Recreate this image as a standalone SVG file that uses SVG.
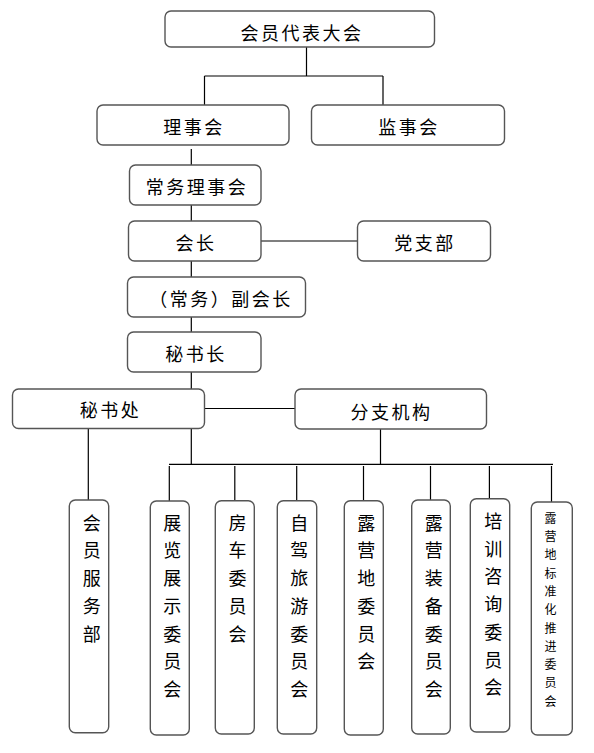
<svg xmlns="http://www.w3.org/2000/svg" width="594" height="753" viewBox="0 0 594 753">
<style>
.box{fill:#fff;stroke:#555;stroke-width:1.4}
.ln{stroke:#000;stroke-width:1.2;fill:none}
.t{font-family:"Noto Sans CJK SC","Noto Sans",sans-serif;font-size:18px;fill:#000;text-anchor:middle;dominant-baseline:central}
.h{letter-spacing:2.5px}
.s{font-size:12px}
</style>
<rect width="594" height="753" fill="#fff"/>
<g id="connectors">
<path class="ln" d="M306.5 47V76M204.5 76H383M204.5 76V105M383 76V105"/>
<path class="ln" d="M191.3 149V165M191.3 205V221M191.3 261V277M191.3 317V332M191.3 372V389M191.3 428V465"/>
<path class="ln" d="M261 241H357.5"/>
<path class="ln" d="M205 408.5H295"/>
<path class="ln" d="M380.5 428.5V464.3M169 464.3H553"/>
<path class="ln" d="M88.3 428.5V500"/>
<path class="ln" d="M169.3 466V501M234.8 466V500.7M296.7 466V500.7M363.5 466V500.7M430.5 466V500M489.4 466V498.7M551.5 466V502"/>
</g>
<g id="n1"><rect class="box" x="165" y="11" width="269.5" height="36" rx="6"/><text class="t h" x="302" y="32">会员代表大会</text></g>
<g id="n2"><rect class="box" x="97" y="105" width="192" height="40" rx="6"/><text class="t h" x="194" y="125.5">理事会</text></g>
<g id="n3"><rect class="box" x="311.5" y="105" width="193" height="40" rx="6"/><text class="t h" x="409" y="125.5">监事会</text></g>
<g id="n4"><rect class="box" x="129.5" y="165" width="131.5" height="40" rx="6"/><text class="t h" x="197" y="185.5">常务理事会</text></g>
<g id="n5"><rect class="box" x="128.5" y="221" width="132.5" height="40" rx="6"/><text class="t h" x="196" y="242">会长</text></g>
<g id="n6"><rect class="box" x="357.5" y="221" width="133" height="40" rx="6"/><text class="t h" x="425" y="242">党支部</text></g>
<g id="n7"><rect class="box" x="127.5" y="277" width="178" height="40" rx="6"/><text class="t h" x="221" y="297.5">（常务）副会长</text></g>
<g id="n8"><rect class="box" x="127.5" y="332" width="133.5" height="40" rx="6"/><text class="t h" x="196" y="352.5">秘书长</text></g>
<g id="n9"><rect class="box" x="12.5" y="389" width="192" height="39.5" rx="6"/><text class="t h" x="110.5" y="409.3">秘书处</text></g>
<g id="n10"><rect class="box" x="295" y="389" width="191.5" height="40" rx="6"/><text class="t h" x="391.5" y="410.8">分支机构</text></g>
<g id="n11"><rect class="box" x="69.3" y="500" width="39.4" height="232.7" rx="6"/><text class="t" x="91.8" y="521.7"><tspan x="91.8" dy="0">会</tspan><tspan x="91.8" dy="27.7">员</tspan><tspan x="91.8" dy="27.7">服</tspan><tspan x="91.8" dy="27.7">务</tspan><tspan x="91.8" dy="27.7">部</tspan></text></g>
<g id="n12"><rect class="box" x="150.3" y="501" width="39" height="234" rx="6"/><text class="t" x="172.3" y="521.7"><tspan x="172.3" dy="0">展</tspan><tspan x="172.3" dy="27.7">览</tspan><tspan x="172.3" dy="27.7">展</tspan><tspan x="172.3" dy="27.7">示</tspan><tspan x="172.3" dy="27.7">委</tspan><tspan x="172.3" dy="27.7">员</tspan><tspan x="172.3" dy="27.7">会</tspan></text></g>
<g id="n13"><rect class="box" x="215.3" y="500.7" width="39" height="233.3" rx="6"/><text class="t" x="237.4" y="521.7"><tspan x="237.4" dy="0">房</tspan><tspan x="237.4" dy="27.7">车</tspan><tspan x="237.4" dy="27.7">委</tspan><tspan x="237.4" dy="27.7">员</tspan><tspan x="237.4" dy="27.7">会</tspan></text></g>
<g id="n14"><rect class="box" x="277.3" y="500.7" width="39.4" height="233.3" rx="6"/><text class="t" x="299.3" y="521.7"><tspan x="299.3" dy="0">自</tspan><tspan x="299.3" dy="27.7">驾</tspan><tspan x="299.3" dy="27.7">旅</tspan><tspan x="299.3" dy="27.7">游</tspan><tspan x="299.3" dy="27.7">委</tspan><tspan x="299.3" dy="27.7">员</tspan><tspan x="299.3" dy="27.7">会</tspan></text></g>
<g id="n15"><rect class="box" x="344.3" y="500.7" width="39" height="234.3" rx="6"/><text class="t" x="366.2" y="521.7"><tspan x="366.2" dy="0">露</tspan><tspan x="366.2" dy="27.7">营</tspan><tspan x="366.2" dy="27.7">地</tspan><tspan x="366.2" dy="27.7">委</tspan><tspan x="366.2" dy="27.7">员</tspan><tspan x="366.2" dy="27.7">会</tspan></text></g>
<g id="n16"><rect class="box" x="411.7" y="500" width="38.6" height="234" rx="6"/><text class="t" x="433.8" y="521.7"><tspan x="433.8" dy="0">露</tspan><tspan x="433.8" dy="27.7">营</tspan><tspan x="433.8" dy="27.7">装</tspan><tspan x="433.8" dy="27.7">备</tspan><tspan x="433.8" dy="27.7">委</tspan><tspan x="433.8" dy="27.7">员</tspan><tspan x="433.8" dy="27.7">会</tspan></text></g>
<g id="n17"><rect class="box" x="470.3" y="498.7" width="39.4" height="233.3" rx="6"/><text class="t" x="493.3" y="520"><tspan x="493.3" dy="0">培</tspan><tspan x="493.3" dy="27.7">训</tspan><tspan x="493.3" dy="27.7">咨</tspan><tspan x="493.3" dy="27.7">询</tspan><tspan x="493.3" dy="27.7">委</tspan><tspan x="493.3" dy="27.7">员</tspan><tspan x="493.3" dy="27.7">会</tspan></text></g>
<g id="n18"><rect class="box" x="531.3" y="502" width="41" height="233" rx="6"/><text class="t s" x="550.5" y="516.7"><tspan x="550.5" dy="0">露</tspan><tspan x="550.5" dy="18.3">营</tspan><tspan x="550.5" dy="18.3">地</tspan><tspan x="550.5" dy="18.3">标</tspan><tspan x="550.5" dy="18.3">准</tspan><tspan x="550.5" dy="18.3">化</tspan><tspan x="550.5" dy="18.3">推</tspan><tspan x="550.5" dy="18.3">进</tspan><tspan x="550.5" dy="18.3">委</tspan><tspan x="550.5" dy="18.3">员</tspan><tspan x="550.5" dy="18.3">会</tspan></text></g>
</svg>
